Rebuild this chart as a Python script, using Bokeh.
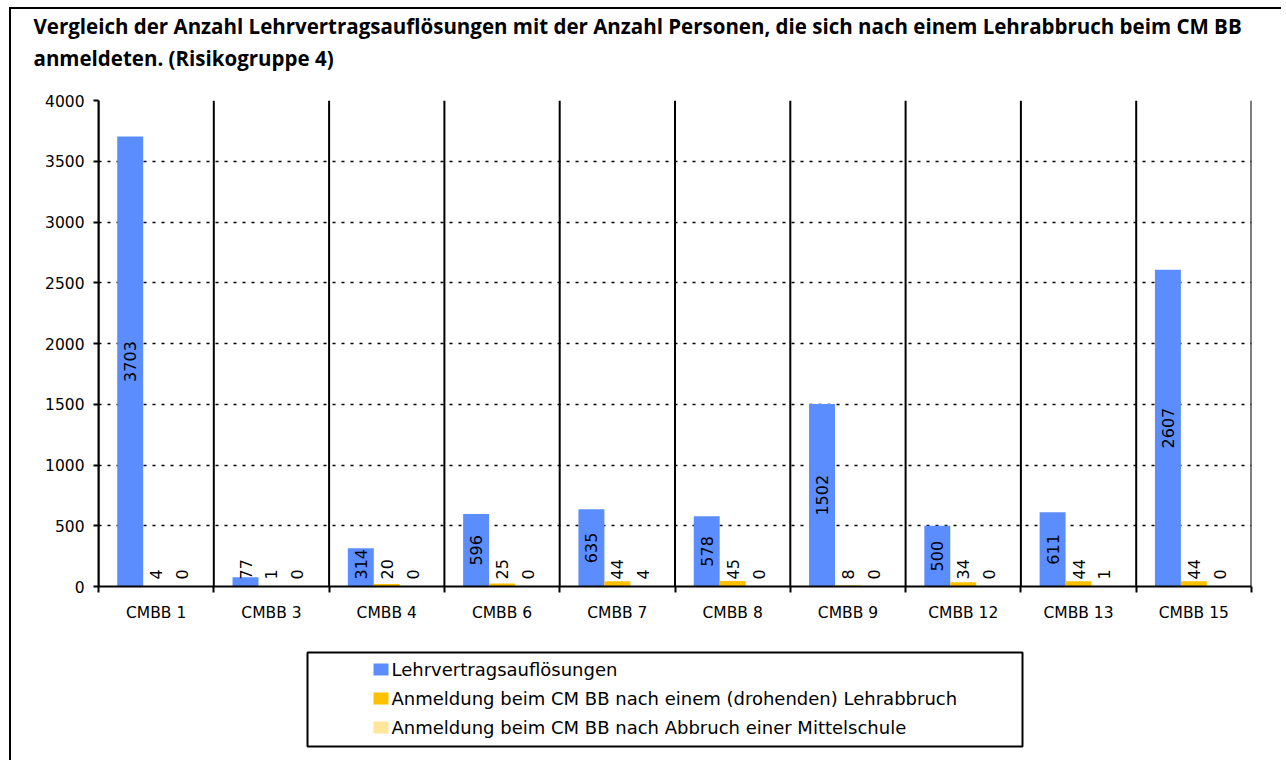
from bokeh.plotting import figure
from bokeh.models import (Range1d, LinearAxis, FixedTicker, Title, ColumnDataSource)
from bokeh.transform import dodge
from bokeh.layouts import column
from bokeh.core.properties import value
from bokeh.embed import file_html
from bokeh.resources import INLINE

# ---------------- data ----------------
categories = ["CMBB 1", "CMBB 3", "CMBB 4", "CMBB 6", "CMBB 7", "CMBB 8",
              "CMBB 9", "CMBB 12", "CMBB 13", "CMBB 15"]
lehrvertragsaufloesungen = [3703, 77, 314, 596, 635, 578, 1502, 500, 611, 2607]
anmeldung_lehrabbruch = [4, 1, 20, 25, 44, 45, 8, 34, 44, 44]
anmeldung_mittelschule = [0, 0, 0, 0, 4, 0, 0, 0, 1, 0]
series_names = ["Lehrvertragsauflösungen",
                "Anmeldung beim CM BB nach einem (drohenden) Lehrabbruch",
                "Anmeldung beim CM BB nach Abbruch einer Mittelschule"]
y_ticks = [0, 500, 1000, 1500, 2000, 2500, 3000, 3500, 4000]
title_line1 = "Vergleich der Anzahl Lehrvertragsauflösungen mit der Anzahl Personen, die sich nach einem Lehrabbruch beim CM BB"
title_line2 = "anmeldeten. (Risikogruppe 4)"

# ---------------- style ----------------
colors = ["#5B8DFF", "#FFC000", "#FFE699"]
FONT = "DejaVu Sans"
TFONT = "Open Sans"
Y_MAX = 4000
FRAME_W, FRAME_H = 1153, 486
BORDER_L, BORDER_R = 87, 30
BAR_W = 0.225
offsets = [-BAR_W, 0.0, BAR_W]
LABEL_PX = 16

n = len(categories)
centers = [i + 0.5 for i in range(n)]          # category slots on the x scale
boundaries = list(range(n + 1))

p = figure(x_range=Range1d(0, n), y_range=Range1d(0, Y_MAX),
           frame_width=FRAME_W, frame_height=FRAME_H,
           min_border_left=BORDER_L, min_border_right=BORDER_R,
           min_border_top=88, min_border_bottom=56,
           x_axis_location=None, y_axis_location=None,
           toolbar_location=None, output_backend="svg")
p.outline_line_color = None
p.background_fill_color = "white"
p.border_fill_color = "white"

# titles: spacer (closest to plot), then line 2, then line 1 on top
p.add_layout(Title(text=" ", text_font_size="1px", standoff=23.5), "above")
p.add_layout(Title(text=title_line2, align="left", offset=-65, standoff=4,
                   text_font=TFONT, text_font_size="20.5px", text_font_style="bold",
                   text_color="black"), "above")
p.add_layout(Title(text=title_line1, align="left", offset=-65, standoff=0,
                   text_font=TFONT, text_font_size="20.5px", text_font_style="bold",
                   text_color="black"), "above")

# y axis
yaxis = LinearAxis(ticker=FixedTicker(ticks=y_ticks))
yaxis.axis_line_color = "black"
yaxis.axis_line_width = 2
yaxis.major_tick_out = 5
yaxis.major_tick_in = 0
yaxis.major_tick_line_width = 2
yaxis.minor_tick_line_color = None
yaxis.major_label_standoff = 9
yaxis.major_label_text_font = FONT
yaxis.major_label_text_font_size = "15.5px"
yaxis.major_label_text_color = "black"
p.add_layout(yaxis, "left")

# x axis: labels at slot centres, ticks at slot boundaries
xaxis = LinearAxis(ticker=FixedTicker(ticks=centers, minor_ticks=boundaries))
xaxis.major_label_overrides = {c: cat for c, cat in zip(centers, categories)}
xaxis.axis_line_color = "black"
xaxis.axis_line_width = 2
xaxis.major_tick_line_color = None
xaxis.major_tick_out = 6
xaxis.major_tick_in = 0
xaxis.minor_tick_out = 6
xaxis.minor_tick_in = 0
xaxis.minor_tick_line_width = 2
xaxis.minor_tick_line_color = "black"
xaxis.major_label_standoff = 11
xaxis.major_label_text_font = FONT
xaxis.major_label_text_font_size = "15.5px"
xaxis.major_label_text_color = "black"
p.add_layout(xaxis, "below")

# dotted horizontal grid
p.ygrid.ticker = FixedTicker(ticks=y_ticks)
p.ygrid.grid_line_color = "black"
p.ygrid.grid_line_dash = "3 6"
p.ygrid.grid_line_width = 1.5
p.xgrid.grid_line_color = None

# vertical separators between categories
p.segment(x0=boundaries, x1=boundaries, y0=[0] * (n + 1), y1=[Y_MAX] * (n + 1),
          line_color="black", line_width=2)

# bars + labels
series = [lehrvertragsaufloesungen, anmeldung_lehrabbruch, anmeldung_mittelschule]
px_per_unit = FRAME_H / Y_MAX
for vals, off, col in zip(series, offsets, colors):
    labels = [str(v) for v in vals]
    label_y = [max(v / 2, (len(s) * LABEL_PX * 0.636 / 2 + 7) / px_per_unit)
               for v, s in zip(vals, labels)]
    src = ColumnDataSource(dict(pos=centers, cat=categories, val=vals, lab=labels, ly=label_y))
    p.vbar(x=dodge("pos", off), top="val", width=BAR_W, source=src,
           fill_color=col, line_color=None)
    p.text(x=dodge("pos", off), y="ly", text="lab", source=src,
           angle=1.5708, text_align="center", text_baseline="middle",
           text_font=value(FONT), text_font_size=f"{LABEL_PX}px", text_color="black")

# ---------------- legend (separate figure, coordinates in px from frame left/top) ----------------
LEG_H = 118
lf = figure(x_range=Range1d(0, FRAME_W), y_range=Range1d(LEG_H, 0),
            frame_width=FRAME_W, frame_height=LEG_H,
            min_border_left=BORDER_L, min_border_right=BORDER_R,
            min_border_top=0, min_border_bottom=0,
            x_axis_location=None, y_axis_location=None,
            toolbar_location=None, output_backend="svg")
lf.grid.visible = False
lf.outline_line_color = None
lf.border_fill_color = "white"
lf.quad(left=[209], right=[924], top=[10], bottom=[104],
        fill_color=None, line_color="black", line_width=2)
rows = [27, 56, 85]
lf.rect(x=[282.5] * 3, y=rows, width=15, height=12, fill_color=colors, line_color=None)
lf.text(x=[293] * 3, y=rows, text=series_names, text_align="left", text_baseline="middle",
        text_font=value(FONT), text_font_size="18px", text_color="black")

layout = column(p, lf, margin=(7, 0, 0, 9),
                styles={"border-left": "2px solid black", "border-top": "2px solid black"})

with open("out.html", "w") as f:
    f.write(file_html(layout, INLINE))
